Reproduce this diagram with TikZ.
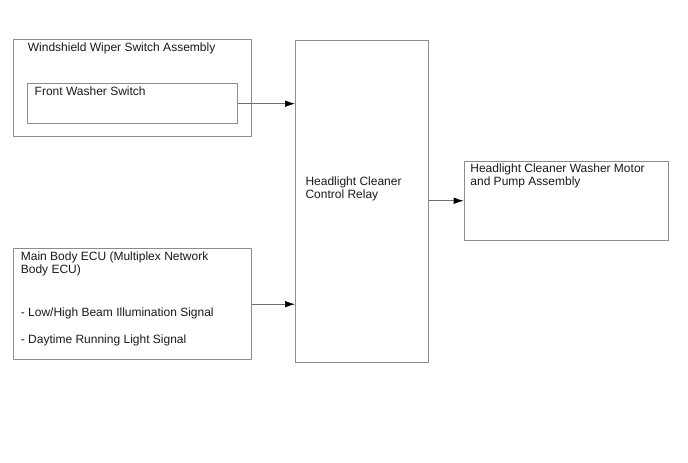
\documentclass[tikz,border=0pt]{standalone}
\usepackage{fontspec}
\setmainfont{Liberation Sans}
\usepackage{tikz}
\usetikzlibrary{positioning,arrows.meta}
\definecolor{boxgray}{RGB}{140, 140, 140}
\definecolor{linegray}{RGB}{110, 110, 110}

\begin{document}
\begin{tikzpicture}[x=1pt, y=-1pt,
    unitbox/.style={draw=boxgray, line width=0.8pt, rectangle, inner sep=0pt, anchor=north west},
    boxtext/.style={font=\fontsize{12}{13.3}\selectfont, inner sep=0pt, align=left, text=black!90},
    signal/.style={draw=linegray, line width=0.7pt, -{Latex[length=10pt, width=6.5pt, color=black]}}]
    \useasboundingbox (0,0) rectangle (688,463);

    % Boxes
    \node[unitbox, minimum width=238pt, minimum height=96.7pt] (wiperbox) at (12.7, 39.3) {};
    \node[unitbox, minimum width=210pt, minimum height=40pt] (washerbox) at (27, 83.3) {};
    \node[unitbox, minimum width=238.3pt, minimum height=111pt] (ecubox) at (12.7, 248.3) {};
    \node[unitbox, minimum width=133.3pt, minimum height=321.4pt] (relaybox) at (295, 40.3) {};
    \node[unitbox, minimum width=204pt, minimum height=79.3pt] (motorbox) at (463.7, 160.7) {};

    % Labels
    \node[boxtext, below right=3pt and 15pt of wiperbox.north west] (wipertext) {Windshield Wiper Switch Assembly};
    \node[boxtext, below right=3.4pt and 7.5pt of washerbox.north west] (washertext) {Front Washer Switch};
    \node[boxtext, below right=3.4pt and 8pt of ecubox.north west] (ecutext)
        {Main Body ECU (Multiplex Network\\
         Body ECU)\\[29.1pt]
         - Low/High Beam Illumination Signal\\[14.3pt]
         - Daytime Running Light Signal};
    \node[boxtext, below right=136.4pt and 10.3pt of relaybox.north west] (relaytext)
        {Headlight Cleaner\\Control Relay};
    \node[boxtext, below right=2.6pt and 6.5pt of motorbox.north west] (motortext)
        {Headlight Cleaner Washer Motor\\and Pump Assembly};

    % Connections
    \draw[signal] (washerbox.east) -- (washerbox.east -| relaybox.west);
    \draw[signal] (ecubox.east) -- (ecubox.east -| relaybox.west);
    \draw[signal] (relaybox.east |- motorbox.west) -- (motorbox.west);
\end{tikzpicture}
\end{document}
